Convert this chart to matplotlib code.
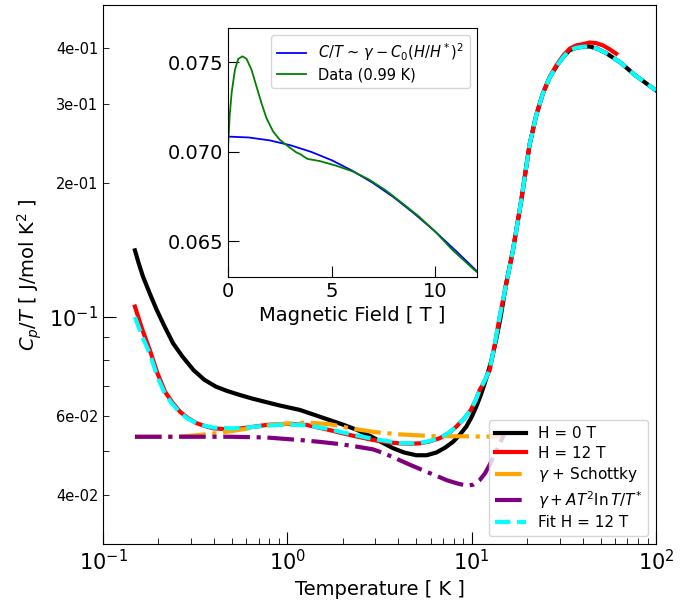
import numpy as np
import matplotlib
matplotlib.use("Agg")
import matplotlib.pyplot as plt
from matplotlib.ticker import FuncFormatter, NullFormatter

# ---- main panel data ----
T_h0 = [0.149, 0.157, 0.165, 0.18, 0.195, 0.215, 0.24, 0.27, 0.31, 0.355, 0.41, 0.47, 0.55,
        0.64, 0.74, 0.9, 1.17, 1.33, 1.77, 2.0, 2.4, 2.8, 3.25, 3.75, 4.3, 5.0, 5.7, 6.44,
        7.2, 7.92, 8.6, 9.35, 10.0, 10.6, 11.2, 11.77, 12.3, 12.8, 13.5, 14.3, 15.4,
        16.75, 18.6, 20.6, 22.4, 24.35, 26.5, 28.8, 31.2, 34.0, 37.0, 40.0, 43.6, 48.0,
        53.7, 64.7, 76.5, 92.2, 100.0]
C_h0 = [0.141, 0.131, 0.123, 0.1125, 0.104, 0.0955, 0.0873, 0.0815, 0.0760, 0.0723, 0.0698,
        0.0683, 0.0669, 0.0657, 0.0647, 0.0634, 0.0619, 0.0608, 0.0584, 0.0574, 0.0558,
        0.0542, 0.0524, 0.0508, 0.0497, 0.0490, 0.0490, 0.0497, 0.0510, 0.0525, 0.0544,
        0.0568, 0.0597, 0.0630, 0.0668, 0.0710, 0.0755, 0.0800, 0.0880, 0.0990, 0.119,
        0.141, 0.183, 0.243, 0.283, 0.317, 0.344, 0.364, 0.381, 0.396, 0.401, 0.403,
        0.4037, 0.399, 0.390, 0.3705, 0.3488, 0.3296, 0.3217]

T_h12 = [0.149, 0.163, 0.18, 0.197, 0.217, 0.238, 0.262, 0.29, 0.322, 0.36, 0.396, 0.45,
         0.508, 0.626, 0.77, 0.99, 1.27, 1.63, 2.18, 2.92, 3.5, 4.07, 4.6, 5.22, 5.9, 6.71,
         7.5, 8.26, 9.1, 9.9, 10.5, 11.05, 11.8, 12.52, 13.3, 14.18, 15.42, 16.75, 18.6,
         20.6, 22.4, 24.35, 26.5, 28.8, 31.2, 34.0, 37.0, 40.1, 43.6, 47.0, 51.5, 56.0, 60.8]
C_h12 = [0.1055, 0.094, 0.0840, 0.0750, 0.0680, 0.0643, 0.0613, 0.0593, 0.0578, 0.0569,
         0.0563, 0.0561, 0.0560, 0.0566, 0.0573, 0.0576, 0.0573, 0.0560, 0.0544, 0.0530,
         0.0524, 0.0521, 0.0520, 0.0521, 0.0526, 0.0535, 0.0549, 0.0568, 0.0592, 0.0619,
         0.0650, 0.0686, 0.0720, 0.0760, 0.0860, 0.100, 0.119, 0.1413, 0.183, 0.243, 0.283,
         0.317, 0.345, 0.366, 0.384, 0.399, 0.406, 0.4085, 0.412, 0.411, 0.406, 0.398, 0.389]

T_sch = [0.149, 0.25, 0.3, 0.4, 0.5, 0.6, 0.7, 0.85, 1.0, 1.3, 1.7, 2.2, 3.0, 4.0, 6.0, 10.0, 15.0]
C_sch = [0.0539, 0.0539, 0.0542, 0.0548, 0.0555, 0.0562, 0.0568, 0.0574, 0.0577, 0.0580,
         0.0575, 0.0563, 0.0552, 0.0546, 0.0541, 0.0540, 0.0539]

T_ln = [0.149, 0.5, 0.77, 1.17, 1.5, 1.93, 2.4, 2.92, 3.3, 3.75, 4.6, 5.68, 6.5, 7.3, 8.3,
        9.35, 10.2, 11.05, 11.8, 12.5, 13.4, 14.2, 15.0]
C_ln = [0.0539, 0.0539, 0.0537, 0.0530, 0.0525, 0.0519, 0.0512, 0.0505, 0.0496, 0.0485,
        0.0467, 0.0450, 0.0440, 0.0431, 0.0424, 0.0419, 0.0421, 0.0431, 0.0446, 0.0466,
        0.0494, 0.0521, 0.0545]

T_fit = [0.149, 0.163, 0.18, 0.197, 0.217, 0.238, 0.262, 0.29, 0.322, 0.36, 0.396, 0.45,
         0.508, 0.626, 0.77, 0.99, 1.27, 1.63, 2.18, 2.92, 3.5, 4.07, 4.6, 5.22, 5.9, 6.71,
         7.5, 8.26, 9.1, 9.9, 10.5, 11.05, 11.8, 12.52, 13.3, 14.18, 15.42, 16.75, 18.6,
         20.6, 22.4, 24.35, 26.5, 28.8, 31.2, 34.0, 37.0, 40.0, 43.6, 48.0, 53.7, 64.7,
         76.5, 92.2, 100.0]
C_fit = [0.1000, 0.0905, 0.0825, 0.0735, 0.0672, 0.0638, 0.0610, 0.0591, 0.0578, 0.0570,
         0.0565, 0.0564, 0.0563, 0.0566, 0.0571, 0.0574, 0.0572, 0.0562, 0.0547, 0.0533,
         0.0527, 0.0522, 0.0521, 0.0522, 0.0527, 0.0536, 0.0550, 0.0568, 0.0592, 0.0619,
         0.0650, 0.0686, 0.0722, 0.0762, 0.0862, 0.100, 0.119, 0.141, 0.183, 0.243, 0.283,
         0.317, 0.344, 0.364, 0.381, 0.396, 0.401, 0.403, 0.4037, 0.399, 0.390, 0.3705,
         0.3488, 0.3296, 0.3217]

# ---- inset data ----
H_fit = [0, 1, 2, 3, 4, 5, 6, 7, 8, 9, 10, 11, 12]
CT_fit = [0.07084, 0.07079, 0.07063, 0.07036, 0.06999, 0.06952, 0.06893,
          0.06824, 0.06744, 0.06652, 0.06552, 0.06444, 0.06332]

H_dat = [0.0, 0.08, 0.175, 0.335, 0.494, 0.702, 0.893, 1.13, 1.37, 1.61, 1.85, 2.17, 2.49,
         2.89, 3.29, 3.5, 3.68, 3.84, 4.4, 5.2, 6.0, 6.8, 7.6, 8.39, 9.19, 10.0, 10.8, 11.9, 12.0]
CT_dat = [0.07021, 0.07200, 0.07328, 0.07458, 0.07518, 0.07532, 0.07518, 0.07458, 0.07365,
          0.07272, 0.07188, 0.07113, 0.07067, 0.07030, 0.06996, 0.06985, 0.06970, 0.06959,
          0.06948, 0.06922, 0.06890, 0.06844, 0.06784, 0.06713, 0.06639, 0.06552, 0.06453,
          0.06337, 0.06328]

fig = plt.figure(figsize=(6.88, 6.16), dpi=100)
ax = fig.add_axes([0.1497, 0.1169, 0.8038, 0.875])

ax.plot(T_h0, C_h0, color="black", lw=3, label="H = 0 T")
ax.plot(T_h12, C_h12, color="red", lw=3, label="H = 12 T")
ax.plot(T_sch, C_sch, color="orange", lw=3, ls="-.", label=r"$\gamma$ + Schottky")
ax.plot(T_ln, C_ln, color="purple", lw=3, ls="-.", label=r"$\gamma + AT^2 \ln T/T^{*}$")
ax.plot(T_fit, C_fit, color="cyan", lw=3, ls="--", label="Fit H = 12 T")

ax.set_xscale("log")
ax.set_yscale("log")
ax.set_xlim(0.1, 100)
ax.set_ylim(0.031, 0.5)
ax.set_xlabel("Temperature [ K ]", fontsize=14)
ax.set_ylabel(r"$C_p/T$ [ J/mol K$^2$ ]", fontsize=14)

ax.tick_params(which="both", direction="in")
ax.tick_params(which="major", length=9, labelsize=15)
ax.tick_params(which="minor", length=4.5, labelsize=10.5)


def minor_lab(v, pos):
    for s in [0.04, 0.06, 0.2, 0.3, 0.4]:
        if abs(v - s) / s < 1e-3:
            return "%.0e" % v
    return ""


ax.yaxis.set_minor_formatter(FuncFormatter(minor_lab))
ax.xaxis.set_minor_formatter(NullFormatter())
ax.legend(loc="lower right", fontsize=11, labelspacing=0.3)

# inset
ins = fig.add_axes([0.3314, 0.5503, 0.3619, 0.4042])
ins.plot(H_fit, CT_fit, color="blue", lw=1.3,
         label=r"$C/T$ ~ $\gamma - C_0(H/H^*)^2$")
ins.plot(H_dat, CT_dat, color="green", lw=1.3, label="Data (0.99 K)")
ins.set_xlim(0, 12)
ins.set_ylim(0.063, 0.0769)
ins.set_xticks([0, 5, 10])
ins.set_yticks([0.065, 0.070, 0.075])
ins.set_yticklabels(["0.065", "0.070", "0.075"])
ins.tick_params(direction="in", length=8, labelsize=14)
ins.set_xlabel("Magnetic Field [ T ]", fontsize=14)
ins.legend(loc="upper right", fontsize=10.5, labelspacing=0.3)

plt.savefig("out.png")
